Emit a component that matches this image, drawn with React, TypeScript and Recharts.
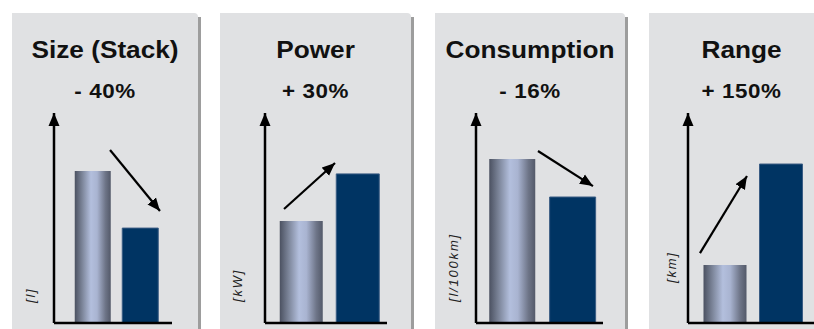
import React from "react";
import { BarChart, Bar, XAxis, YAxis, ReferenceLine, Cell } from "recharts";

// values, scale 0..100 per panel (top of the axis arrow = 100)
const titles = ["Size (Stack)", "Power", "Consumption", "Range"];
const changes = ["- 40%", "+ 30%", "- 16%", "+ 150%"];
const units = ["[l]", "[kW]", "[l/100km]", "[km]"];
const beforeValues = [72.4, 48.6, 78.1, 27.6];
const afterValues = [45.2, 71.0, 60.0, 75.7];
// trend arrows: x as a share of the plot width, y in data units
const trendStart = [
  { x: 0.475, y: 82.4 },
  { x: 0.156, y: 54.3 },
  { x: 0.488, y: 81.9 },
  { x: 0.095, y: 33.3 },
];
const trendEnd = [
  { x: 0.898, y: 53.3 },
  { x: 0.574, y: 76.2 },
  { x: 0.921, y: 65.2 },
  { x: 0.468, y: 70.0 },
];

// page layout (px)
const panels = [
  { left: 12, right: 198, plotLeft: 54, plotRight: 172, padL: 14.75, padR: 8.25, barSize: 36, unitX: 35, unitY: 303 },
  { left: 220, right: 411, plotLeft: 265, plotRight: 387, padL: 7.75, padR: 1.25, barSize: 43, unitX: 242, unitY: 302 },
  { left: 435, right: 625, plotLeft: 476, plotRight: 603, padL: 6.25, padR: 0, barSize: 46, unitX: 458, unitY: 302 },
  { left: 649, right: 840, plotLeft: 688, plotRight: 814, padL: 8.5, padR: 5.5, barSize: 43, unitX: 676, unitY: 283 },
];

const PLOT_TOP = 113;
const PLOT_BOTTOM = 323;
const H = 329;
const FONT = "'Liberation Sans', Arial, sans-serif";

function Panel({ i }: { i: number }) {
  const p = panels[i];
  const data = [
    { name: "before", value: beforeValues[i] },
    { name: "after", value: afterValues[i] },
  ];
  const m = 10;
  return (
    <div style={{ position: "absolute", left: p.plotLeft - m, top: 0 }}>
      <BarChart
        width={p.plotRight - p.plotLeft + 2 * m}
        height={H}
        data={data}
        margin={{ top: PLOT_TOP, bottom: H - PLOT_BOTTOM, left: m, right: m }}
      >
        <XAxis dataKey="name" hide padding={{ left: p.padL, right: p.padR }} />
        <XAxis xAxisId="n" type="number" domain={[0, 1]} allowDataOverflow hide />
        <YAxis hide domain={[0, 100]} allowDataOverflow />
        <Bar dataKey="value" barSize={p.barSize} isAnimationActive={false}>
          <Cell fill="url(#metal)" />
          <Cell fill="#003463" stroke="#3a5c84" strokeWidth={1} />
        </Bar>
        <ReferenceLine xAxisId="n" y={0} stroke="#000" strokeWidth={2.5} />
        <ReferenceLine
          xAxisId="n"
          segment={[{ x: 0, y: 0 }, { x: 0, y: 100 }]}
          stroke="#000"
          strokeWidth={2.5}
          markerEnd="url(#head)"
        />
        <ReferenceLine
          xAxisId="n"
          segment={[trendStart[i], trendEnd[i]]}
          stroke="#000"
          strokeWidth={2.2}
          markerEnd="url(#head)"
        />
      </BarChart>
    </div>
  );
}

export default function App() {
  return (
    <div style={{ position: "absolute", left: 0, top: 0, width: 814, height: H, overflow: "hidden", background: "#fff" }}>
      <svg width={0} height={0} style={{ position: "absolute" }}>
        <defs>
          <linearGradient id="metal" x1="0" y1="0" x2="1" y2="0">
            <stop offset="0" stopColor="#4b5161" />
            <stop offset="0.2" stopColor="#7a8397" />
            <stop offset="0.45" stopColor="#b3bfdd" />
            <stop offset="0.62" stopColor="#a9b4d1" />
            <stop offset="0.85" stopColor="#6e7588" />
            <stop offset="1" stopColor="#535969" />
          </linearGradient>
          <marker
            id="head"
            viewBox="0 -6 14 12"
            refX={13}
            refY={0}
            markerWidth={14}
            markerHeight={12}
            markerUnits="userSpaceOnUse"
            orient="auto"
          >
            <path d="M0,-5.5 L13,0 L0,5.5 z" fill="#000" />
          </marker>
        </defs>
      </svg>
      {panels.map((p, i) => (
        <React.Fragment key={i}>
          <div
            style={{
              position: "absolute",
              left: p.right,
              top: 17,
              width: 3,
              height: H,
              background: "#9d9d9d",
            }}
          />
          <div
            style={{
              position: "absolute",
              left: p.left,
              top: 13,
              width: p.right - p.left,
              height: H,
              background: "#e0e1e3",
              borderTopRightRadius: 4,
            }}
          />
        </React.Fragment>
      ))}
      {panels.map((_, i) => (
        <Panel key={i} i={i} />
      ))}
      <svg width={814} height={H} style={{ position: "absolute", left: 0, top: 0, pointerEvents: "none" }}>
        {panels.map((p, i) => {
          const cx = (p.left + Math.min(p.right, 834)) / 2;
          return (
            <g key={i} fontFamily={FONT} fill="#111">
              <text
                transform={`translate(${cx} 58) scale(1.14 1)`}
                textAnchor="middle"
                fontSize={23}
                fontWeight="bold"
              >
                {titles[i]}
              </text>
              <text
                transform={`translate(${cx} 98) scale(1.12 1)`}
                textAnchor="middle"
                fontSize={20}
                fontWeight="bold"
                letterSpacing={0.5}
              >
                {changes[i]}
              </text>
              <text
                x={p.unitX}
                y={p.unitY}
                transform={`rotate(-90 ${p.unitX} ${p.unitY})`}
                fontSize={13}
                fontStyle="italic"
                letterSpacing={1.8}
                fill="#222"
              >
                {units[i]}
              </text>
            </g>
          );
        })}
      </svg>
    </div>
  );
}
